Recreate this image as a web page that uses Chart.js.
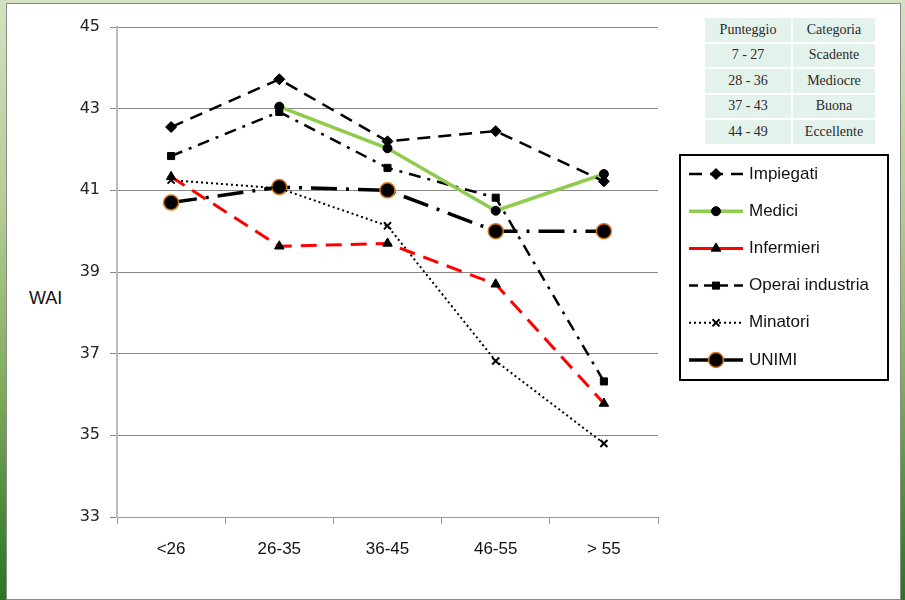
<!DOCTYPE html>
<html>
<head>
<meta charset="utf-8">
<script src="https://cdn.jsdelivr.net/npm/chart.js@4.4.1/dist/chart.umd.min.js"></script>
<style>
  html, body { margin: 0; padding: 0; }
  body {
    width: 905px; height: 600px; overflow: hidden; position: relative;
    background: linear-gradient(to bottom, #d2e2c2 0%, #b3cc93 35%, #7fab5a 65%, #3f8330 90%, #2d7424 100%);
  }
  #panel {
    position: absolute; left: 6px; top: 3px; width: 893px; height: 595px;
    background: #fff; border: 1px solid #8a8a8a;
  }
  #wrap { position: absolute; left: 0; top: 0; width: 905px; height: 600px; }
  #wai {
    position: absolute; left: 29px; top: 288px;
    font: 18px "Liberation Sans", Arial, sans-serif; color: #111;
  }
  #score {
    position: absolute; left: 703px; top: 16px; width: 174px;
    border-collapse: collapse;
    font: 14px "Liberation Serif", "DejaVu Serif", serif; color: #2a2a2a;
  }
  #score td {
    background: #e4f2ec; border: 2px solid #fff; height: 23.5px;
    text-align: center; padding: 0;
  }
</style>
</head>
<body>
<div id="panel"></div>
<div id="wai">WAI</div>
<table id="score"></table>
<div id="wrap"><canvas id="chart" width="905" height="600"></canvas></div>
<script>
  // categories and series
  const categories = ["<26", "26-35", "36-45", "46-55", "> 55"];
  const impiegati  = [42.55, 43.72, 42.2, 42.45, 41.22];
  const medici     = [null, 43.05, 42.03, 40.5, 41.4];
  const infermieri = [41.33, 39.63, 39.7, 38.7, 35.78];
  const operai     = [41.84, 42.92, 41.55, 40.82, 36.32];
  const minatori   = [41.25, 41.05, 40.13, 36.82, 34.8];
  const unimi      = [40.7, 41.08, 41.0, 40.0, 40.0];

  // score table
  const scoreHeader = ["Punteggio", "Categoria"];
  const scoreRanges = ["7 - 27", "28 - 36", "37 - 43", "44 - 49"];
  const scoreLabels = ["Scadente", "Mediocre", "Buona", "Eccellente"];

  const table = document.getElementById("score");
  table.innerHTML = `<tr><td style="width:86px">${scoreHeader[0]}</td><td>${scoreHeader[1]}</td></tr>` +
    scoreRanges.map((r, i) => `<tr><td>${r}</td><td>${scoreLabels[i]}</td></tr>`).join("");

  // legend drawn beside the plot, using each dataset's own style
  const sideLegend = {
    id: "sideLegend",
    afterDraw(chart) {
      const ctx = chart.ctx;
      ctx.save();
      ctx.lineWidth = 2;
      ctx.strokeStyle = "#000";
      ctx.setLineDash([]);
      ctx.strokeRect(680, 155, 208, 225);
      chart.data.datasets.forEach((ds, i) => {
        const y = 174 + i * 37.2;
        ctx.save();
        ctx.strokeStyle = ds.borderColor;
        ctx.lineWidth = ds.borderWidth;
        ctx.setLineDash(ds.legendDash || ds.borderDash || []);
        ctx.beginPath();
        ctx.moveTo(689, y);
        ctx.lineTo(743, y);
        ctx.stroke();
        ctx.setLineDash([]);
        ctx.fillStyle = ds.pointBackgroundColor;
        ctx.strokeStyle = ds.pointBorderColor;
        ctx.lineWidth = ds.pointBorderWidth;
        Chart.helpers.drawPoint(ctx, {
          pointStyle: ds.pointStyle, radius: ds.pointRadius, rotation: 0,
          borderWidth: ds.pointBorderWidth
        }, 716, y);
        ctx.restore();
        ctx.fillStyle = "#111";
        ctx.font = '17px "Liberation Sans", Arial, sans-serif';
        ctx.textBaseline = "middle";
        ctx.fillText(ds.label, 749, y);
      });
      ctx.restore();
    }
  };

  new Chart(document.getElementById("chart"), {
    type: "line",
    data: {
      labels: categories,
      datasets: [
        { label: "Impiegati", data: impiegati, borderColor: "#000", borderWidth: 2.5, borderDash: [13, 8],
          pointStyle: "rectRot", pointRadius: 5.5, pointBackgroundColor: "#000", pointBorderColor: "#000", pointBorderWidth: 1 },
        { label: "Medici", data: medici, borderColor: "#8fcc4e", borderWidth: 3.5,
          pointStyle: "circle", pointRadius: 4.5, pointBackgroundColor: "#000", pointBorderColor: "#000", pointBorderWidth: 1 },
        { label: "Infermieri", data: infermieri, borderColor: "#ff0000", borderWidth: 3, borderDash: [16, 9],
          legendDash: [],
          pointStyle: "triangle", pointRadius: 5.5, pointBackgroundColor: "#000", pointBorderColor: "#000", pointBorderWidth: 1 },
        { label: "Operai industria", data: operai, borderColor: "#000", borderWidth: 2.5, borderDash: [12, 7, 3, 7],
          legendDash: [9, 6],
          pointStyle: "rect", pointRadius: 5, pointBackgroundColor: "#000", pointBorderColor: "#000", pointBorderWidth: 1 },
        { label: "Minatori", data: minatori, borderColor: "#000", borderWidth: 2, borderDash: [2, 3],
          pointStyle: "crossRot", pointRadius: 5, pointBackgroundColor: "#000", pointBorderColor: "#000", pointBorderWidth: 2 },
        { label: "UNIMI", data: unimi, borderColor: "#000", borderWidth: 3.5, borderDash: [26, 9, 3, 9],
          legendDash: [],
          pointStyle: "circle", pointRadius: 7.5, pointBackgroundColor: "#000", pointBorderColor: "#d9761c", pointBorderWidth: 1.5 }
      ]
    },
    options: {
      responsive: false,
      animation: false,
      layout: { padding: { left: 0, top: 27, right: 247, bottom: 0 } },
      plugins: { legend: { display: false }, tooltip: { enabled: false } },
      scales: {
        x: {
          offset: true,
          afterFit: s => { s.height = 83; },
          grid: { offset: true, drawOnChartArea: false, tickLength: 7, color: "#999" },
          border: { color: "#999", width: 1 },
          ticks: { padding: 15, color: "#111", font: { family: "Liberation Sans", size: 17 } }
        },
        y: {
          min: 33, max: 45,
          afterFit: s => { s.width = 117; },
          grid: { tickLength: 7, color: "#888" },
          border: { color: "#bbb", width: 2 },
          ticks: { stepSize: 2, padding: 10, color: "#222", font: { family: "DejaVu Sans", size: 16 } }
        }
      }
    },
    plugins: [sideLegend]
  });
</script>
</body>
</html>
